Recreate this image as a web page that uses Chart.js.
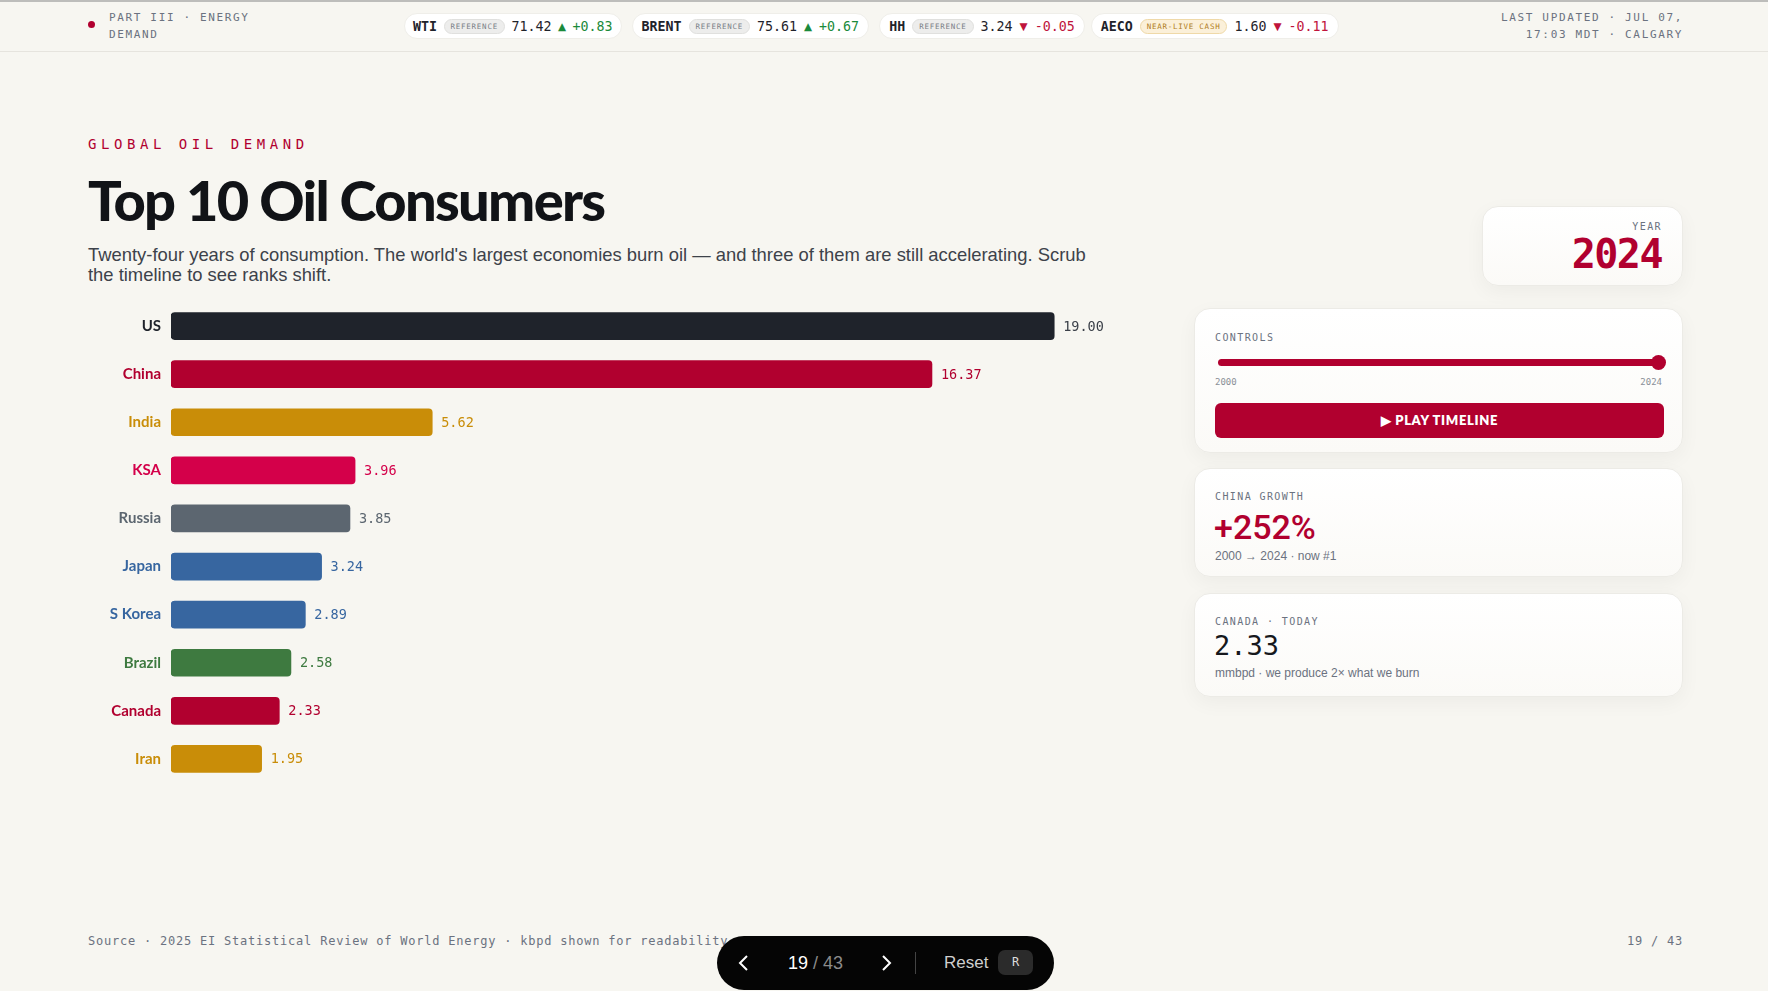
<!DOCTYPE html>
<html>
<head>
<meta charset="utf-8">
<title>Top 10 Oil Consumers</title>
<script src="https://cdn.jsdelivr.net/npm/chart.js@4.4.1/dist/chart.umd.min.js"></script>
<style>
  body {
    margin: 0;
    width: 1768px;
    height: 991px;
    background: #f7f6f1;
    position: relative;
    overflow: hidden;
    font-family: 'Liberation Sans', Arial, sans-serif;
    color: #16181d;
  }
  .mono { font-family: 'DejaVu Sans Mono', monospace; }
  .abs { position: absolute; }

  /* top bar */
  .topline { position: absolute; left: 0; top: 0; width: 1768px; height: 2px; background: #bdbdbb; }
  .header { position: absolute; left: 0; top: 0; width: 1768px; height: 51px; border-bottom: 1px solid #e6e4de; }
  .dot { position: absolute; left: 88px; top: 21px; width: 7px; height: 7px; border-radius: 50%; background: #b1002f; }
  .hdr-txt { font-size: 11px; letter-spacing: 0.15em; line-height: 17px; color: #6b7280; }
  .tickers { position: absolute; left: 404px; top: 13px; display: flex; gap: 10px; }
  .pill {
    height: 26px; box-sizing: border-box; padding: 0 9px; border-radius: 13px;
    background: #fff; border: 1px solid #efeee9;
    display: flex; align-items: center; gap: 7px;
    font-family: 'DejaVu Sans Mono', monospace; font-size: 13.3px; color: #1f232b;
  }
  .pill.first { padding: 0 8px; gap: 6.5px; }
  .pill.last { margin-left: -4px; }
  .sym { font-weight: bold; }
  .badge {
    font-size: 7.5px; letter-spacing: 0.1em; padding: 2px 6px; border-radius: 8px;
    background: #ededec; color: #7a7f87; border: 1px solid #e0e0de;
  }
  .badge.gold { background: #fbf0d9; color: #b07d1c; border-color: #efd9a8; }
  .up { color: #1a8a3a; }
  .down { color: #c0143c; }
  .arr { font-family: 'DejaVu Sans', sans-serif; font-size: 10.5px; }

  /* headline */
  .eyebrow { left: 88px; top: 135px; font-size: 14px; line-height: 18px; letter-spacing: 4.55px; color: #b1002f; }
  h1 {
    position: absolute; left: 88px; top: 172px; margin: 0;
    font-family: 'Lato', sans-serif; font-weight: 900; font-size: 56px; line-height: 1;
    letter-spacing: -0.03em; color: #111317;
  }
  .sub { left: 88px; top: 245px; width: 1010px; font-size: 18.4px; line-height: 20px; color: #3d424a; }

  /* the y-axis adds ~19px of label padding above and below, so the box is taller */
  .chart-box { position: absolute; left: 88px; top: 283px; width: 1022px; height: 519px; }

  /* side cards */
  .card {
    position: absolute; box-sizing: border-box;
    background: linear-gradient(#ffffff, #fbfaf7);
    border: 1px solid #ecebe6; border-radius: 16px;
    box-shadow: 0 6px 20px rgba(0, 0, 0, 0.045);
  }
  .lbl { font-family: 'DejaVu Sans Mono', monospace; font-size: 10px; letter-spacing: 0.14em; color: #6b7280; }
  .year-card { left: 1482px; top: 206px; width: 201px; height: 80px; }
  .year-num { font-family: 'DejaVu Sans Mono', monospace; font-weight: bold; font-size: 40px; letter-spacing: -1.5px; color: #b1002f; }
  .ctrl-card { left: 1194px; top: 308px; width: 489px; height: 145px; }
  .track { position: absolute; left: 23px; top: 50px; width: 443px; height: 7px; border-radius: 4px; background: #b1002f; }
  .thumb { position: absolute; left: 456px; top: 46px; width: 15px; height: 15px; border-radius: 50%; background: #b1002f; }
  .btn {
    position: absolute; left: 20px; top: 94px; width: 449px; height: 35px; border-radius: 6px;
    background: #b1002f; color: #fff; text-align: center; line-height: 35px;
    font-family: 'Lato', sans-serif; font-weight: 800; font-size: 13px; letter-spacing: 0.05em;
  }
  .china-card { left: 1194px; top: 468px; width: 489px; height: 109px; }
  .canada-card { left: 1194px; top: 593px; width: 489px; height: 104px; }
  .small { font-size: 12px; color: #6b7280; }

  /* footer */
  .foot { font-size: 12px; letter-spacing: 0.78px; color: #6b7280; line-height: 16px; }
  .nav {
    position: absolute; left: 717px; top: 936px; width: 337px; height: 54px;
    border-radius: 27px; background: #050505;
  }
</style>
</head>
<body>
<div class="header"></div>
<div class="topline"></div>
<div class="dot"></div>
<div class="abs mono hdr-txt" style="left:109px; top:9px;">PART III · ENERGY<br>DEMAND</div>

<div class="tickers">
  <div class="pill first"><span class="sym">WTI</span><span class="badge">REFERENCE</span><span>71.42</span><span class="arr up">▲</span><span class="up">+0.83</span></div>
  <div class="pill"><span class="sym">BRENT</span><span class="badge">REFERENCE</span><span>75.61</span><span class="arr up">▲</span><span class="up">+0.67</span></div>
  <div class="pill"><span class="sym">HH</span><span class="badge">REFERENCE</span><span>3.24</span><span class="arr down">▼</span><span class="down">-0.05</span></div>
  <div class="pill last"><span class="sym">AECO</span><span class="badge gold">NEAR-LIVE CASH</span><span>1.60</span><span class="arr down">▼</span><span class="down">-0.11</span></div>
</div>

<div class="abs mono hdr-txt" style="right:85px; top:9px; text-align:right;">LAST UPDATED · JUL 07,<br>17:03 MDT · CALGARY</div>

<div class="abs mono eyebrow">GLOBAL OIL DEMAND</div>
<h1>Top 10 Oil Consumers</h1>
<div class="abs sub">Twenty-four years of consumption. The world's largest economies burn oil — and three of them are still accelerating. Scrub the timeline to see ranks shift.</div>

<div class="chart-box"><canvas id="oilChart"></canvas></div>

<div class="card year-card">
  <div class="abs lbl" style="right:20px; top:14px;">YEAR</div>
  <div class="abs year-num" style="right:20px; top:24px;">2024</div>
</div>

<div class="card ctrl-card">
  <div class="abs lbl" style="left:20px; top:23px;">CONTROLS</div>
  <div class="track"></div>
  <div class="thumb"></div>
  <div class="abs mono" style="left:20px; top:68px; font-size:9px; color:#8a8f97;">2000</div>
  <div class="abs mono" style="right:20px; top:68px; font-size:9px; color:#8a8f97;">2024</div>
  <div class="btn">▶ PLAY TIMELINE</div>
</div>

<div class="card china-card">
  <div class="abs lbl" style="left:20px; top:22px;">CHINA GROWTH</div>
  <div class="abs" style="left:19px; top:38px; font-family:Roboto, sans-serif; font-weight:500; font-size:34px; color:#b1002f;">+252%</div>
  <div class="abs small" style="left:20px; top:80px;">2000 → 2024 · now #1</div>
</div>

<div class="card canada-card">
  <div class="abs lbl" style="left:20px; top:22px;">CANADA · TODAY</div>
  <div class="abs mono" style="left:19px; top:36px; font-size:27px; color:#16181d;">2.33</div>
  <div class="abs small" style="left:20px; top:72px;">mmbpd · we produce 2× what we burn</div>
</div>

<div class="abs mono foot" style="left:88px; top:933px;">Source · 2025 EI Statistical Review of World Energy · kbpd shown for readability</div>
<div class="abs mono foot" style="right:85px; top:933px;">19 / 43</div>

<div class="nav">
  <svg class="abs" style="left:20px; top:18px;" width="14" height="18" viewBox="0 0 14 18"><path d="M10 2 L3 9 L10 16" stroke="#fff" stroke-width="2" fill="none"/></svg>
  <div class="abs" style="left:71px; top:16px; font-size:18px; line-height:22px;"><span style="color:#fff;">19</span><span style="color:#8b8b8b;"> / 43</span></div>
  <svg class="abs" style="left:162px; top:18px;" width="14" height="18" viewBox="0 0 14 18"><path d="M4 2 L11 9 L4 16" stroke="#fff" stroke-width="2" fill="none"/></svg>
  <div class="abs" style="left:198px; top:16px; width:1px; height:22px; background:#444;"></div>
  <div class="abs" style="left:227px; top:16px; font-size:17px; line-height:22px; color:#cfcfcf;">Reset</div>
  <div class="abs mono" style="left:281px; top:14px; width:35px; height:25px; border-radius:7px; background:#2b2b2b; color:#ddd; font-size:12px; line-height:25px; text-align:center;">R</div>
</div>

<script>
// 2024 consumption, mmbpd
const countries = ['US', 'China', 'India', 'KSA', 'Russia', 'Japan', 'S Korea', 'Brazil', 'Canada', 'Iran'];
const demand2024 = [19.00, 16.37, 5.62, 3.96, 3.85, 3.24, 2.89, 2.58, 2.33, 1.95];

const barColors = ['#1f232b', '#b1002f', '#c98d08', '#d4004a', '#5c6670', '#3766a0', '#3766a0', '#3e7a40', '#b1002f', '#c98d08'];
const valueColors = ['#3b4049', '#b1002f', '#c98d08', '#d4004a', '#5c6670', '#3766a0', '#3766a0', '#3e7a40', '#b1002f', '#c98d08'];

// value label at the end of every bar
const endLabels = {
  id: 'endLabels',
  afterDatasetsDraw(chart) {
    const ctx = chart.ctx;
    const meta = chart.getDatasetMeta(0);
    ctx.save();
    ctx.font = '13.5px "DejaVu Sans Mono", monospace';
    ctx.textBaseline = 'middle';
    ctx.textAlign = 'left';
    meta.data.forEach((bar, i) => {
      ctx.fillStyle = valueColors[i];
      ctx.fillText(demand2024[i].toFixed(2), bar.x + 9, bar.y + 1);
    });
    ctx.restore();
  }
};

const config = {
  type: 'bar',
  data: {
    labels: countries,
    datasets: [{
      data: demand2024,
      backgroundColor: barColors,
      borderRadius: 4,
      borderSkipped: false,
      barThickness: 27
    }]
  },
  options: {
    indexAxis: 'y',
    responsive: true,
    maintainAspectRatio: false,
    animation: false,
    layout: { padding: 0 },
    plugins: { legend: { display: false }, tooltip: { enabled: false } },
    scales: {
      x: { display: false, min: 0, max: 20.2 },
      y: {
        grid: { display: false, drawTicks: false },
        border: { display: false },
        afterFit(scale) { scale.width = 83; },
        ticks: {
          padding: 10,
          color: (c) => barColors[c.index],
          font: { family: 'Lato', weight: 'bold', size: 15 }
        }
      }
    }
  },
  plugins: [endLabels]
};

const oilChart = new Chart(document.getElementById('oilChart'), config);
</script>
</body>
</html>
